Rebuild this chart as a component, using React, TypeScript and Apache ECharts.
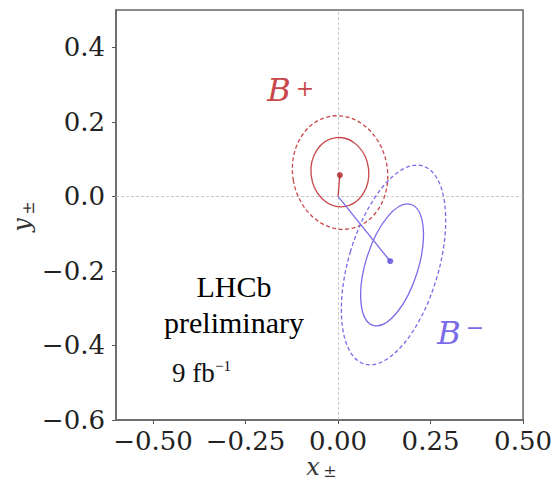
import React, { useEffect, useRef } from "react";
import * as echarts from "echarts";

// ---- data ----
const xTicks = [-0.5, -0.25, 0, 0.25, 0.5];
const xTickLabels = ["\u22120.50", "\u22120.25", "0.00", "0.25", "0.50"];
const yTicks = [-0.6, -0.4, -0.2, 0, 0.2, 0.4];
const yTickLabels = ["\u22120.6", "\u22120.4", "\u22120.2", "0.0", "0.2", "0.4"];

const origin = [0, 0];
const bPlusPoint = [0.005, 0.057];
const bMinusPoint = [0.141, -0.174];

// contours: [centre x, centre y, semi-axis x, semi-axis y, tilt (deg, anticlockwise)]
const bPlus1Sigma = [0.005, 0.065, 0.078, 0.093, 6];
const bPlus2Sigma = [0.0055, 0.064, 0.128, 0.153, 10];
const bMinus1Sigma = [0.146, -0.184, 0.071, 0.17, -17.4];
const bMinus2Sigma = [0.15, -0.184, 0.122, 0.277, -16.4];

const RED = "#c9474a";
const RED_DOT = "#b22222";
const BLUE = "#7b6be8";
const BLUE_DOT = "#5a48d8";

function pick(ticks: number[], labels: string[]) {
  return (v: number) => {
    const i = ticks.findIndex((t) => Math.abs(t - v) < 1e-9);
    return i >= 0 ? labels[i] : "";
  };
}

function contourSeries(row: number[], color: string, dashed: boolean) {
  return {
    type: "custom",
    coordinateSystem: "cartesian2d",
    silent: true,
    data: [row],
    encode: { x: 0, y: 1 },
    renderItem: (params: any, api: any) => {
      const c = api.coord([api.value(0), api.value(1)]);
      const s = api.size([api.value(2), api.value(3)]);
      return {
        type: "ellipse",
        x: c[0],
        y: c[1],
        rotation: (api.value(4) * Math.PI) / 180,
        shape: { cx: 0, cy: 0, rx: s[0], ry: s[1] },
        style: {
          fill: "none",
          stroke: color,
          lineWidth: 1.3,
          lineDash: dashed ? [4, 2.5] : null,
        },
      };
    },
  };
}

export default function App() {
  const ref = useRef<HTMLDivElement>(null);
  useEffect(() => {
    document.body.style.margin = "0";
    const chart = echarts.init(ref.current!, null, { renderer: "svg" });
    const axisLineStyle = { color: "#666", width: 1.5 };
    const labelStyle = {
      fontFamily: "DejaVu Serif",
      fontSize: 26,
      color: "#222",
    };
    chart.setOption({
      animation: false,
      backgroundColor: "#fff",
      grid: {
        left: 116,
        top: 10,
        width: 412,
        height: 410,
        show: true,
        borderColor: "#666",
        borderWidth: 1.5,
        backgroundColor: "transparent",
      },
      xAxis: {
        type: "value",
        min: -0.6,
        max: 0.5,
        axisLine: { show: true, onZero: false, lineStyle: axisLineStyle },
        axisTick: {
          show: true,
          length: 4,
          customValues: xTicks,
          lineStyle: { color: "#555", width: 1 },
        },
        axisLabel: {
          ...labelStyle,
          margin: 8,
          lineHeight: 26,
          customValues: xTicks,
          formatter: pick(xTicks, xTickLabels),
        },
        splitLine: { show: false },
      },
      yAxis: {
        type: "value",
        min: -0.6,
        max: 0.5,
        axisLine: { show: true, onZero: false, lineStyle: axisLineStyle },
        axisTick: {
          show: true,
          length: 4,
          customValues: yTicks,
          lineStyle: { color: "#555", width: 1 },
        },
        axisLabel: {
          ...labelStyle,
          margin: 11,
          customValues: yTicks,
          formatter: pick(yTicks, yTickLabels),
        },
        splitLine: { show: false },
      },
      series: [
        {
          type: "line",
          data: [origin, bPlusPoint],
          symbol: "none",
          lineStyle: { color: RED, width: 1.3 },
          silent: true,
          z: 3,
          markLine: {
            silent: true,
            symbol: "none",
            label: { show: false },
            lineStyle: { type: [3, 2], color: "#c4c4c4", width: 0.9 },
            data: [{ xAxis: 0 }, { yAxis: 0 }],
            z: 1,
          },
        },
        {
          type: "line",
          data: [origin, bMinusPoint],
          symbol: "none",
          lineStyle: { color: BLUE, width: 1.3 },
          silent: true,
          z: 3,
        },
        contourSeries(bPlus1Sigma, RED, false),
        contourSeries(bPlus2Sigma, RED, true),
        contourSeries(bMinus1Sigma, BLUE, false),
        contourSeries(bMinus2Sigma, BLUE, true),
        {
          type: "scatter",
          data: [bPlusPoint],
          symbolSize: 6,
          itemStyle: { color: RED_DOT },
          z: 4,
        },
        {
          type: "scatter",
          data: [bMinusPoint],
          symbolSize: 6,
          itemStyle: { color: BLUE_DOT },
          z: 4,
        },
      ],
      graphic: [
        {
          type: "text",
          x: 234,
          y: 286,
          style: {
            text: "LHCb",
            fontFamily: "Liberation Serif",
            fontSize: 30,
            fill: "#000",
            align: "center",
            verticalAlign: "middle",
          },
        },
        {
          type: "text",
          x: 234,
          y: 322,
          style: {
            text: "preliminary",
            fontFamily: "Liberation Serif",
            fontSize: 30,
            fill: "#000",
            align: "center",
            verticalAlign: "middle",
          },
        },
        {
          type: "text",
          x: 172,
          y: 373,
          style: {
            text: "9 fb",
            fontFamily: "Liberation Serif",
            fontSize: 27,
            fill: "#111",
            align: "left",
            verticalAlign: "middle",
          },
        },
        {
          type: "text",
          x: 215,
          y: 366,
          style: {
            text: "\u22121",
            fontFamily: "Liberation Serif",
            fontSize: 15,
            fill: "#111",
            align: "left",
            verticalAlign: "middle",
          },
        },
        {
          type: "text",
          x: 279,
          y: 90,
          style: {
            text: "B",
            fontFamily: "DejaVu Serif",
            fontStyle: "italic",
            fontSize: 32,
            fill: RED,
            align: "center",
            verticalAlign: "middle",
          },
        },
        {
          type: "text",
          x: 305,
          y: 88,
          style: {
            text: "+",
            fontFamily: "DejaVu Serif",
            fontSize: 22,
            fill: RED,
            align: "center",
            verticalAlign: "middle",
          },
        },
        {
          type: "text",
          x: 449,
          y: 333,
          style: {
            text: "B",
            fontFamily: "DejaVu Serif",
            fontStyle: "italic",
            fontSize: 32,
            fill: BLUE,
            align: "center",
            verticalAlign: "middle",
          },
        },
        {
          type: "text",
          x: 475,
          y: 327,
          style: {
            text: "\u2212",
            fontFamily: "DejaVu Serif",
            fontSize: 22,
            fill: BLUE,
            align: "center",
            verticalAlign: "middle",
          },
        },
        {
          type: "text",
          x: 313,
          y: 467,
          style: {
            text: "x",
            fontFamily: "DejaVu Serif",
            fontStyle: "italic",
            fontSize: 24,
            fill: "#333",
            align: "center",
            verticalAlign: "middle",
          },
        },
        {
          type: "text",
          x: 330,
          y: 471,
          style: {
            text: "\u00b1",
            fontFamily: "DejaVu Serif",
            fontSize: 16,
            fill: "#333",
            align: "center",
            verticalAlign: "middle",
          },
        },
        {
          type: "text",
          x: 22,
          y: 225,
          rotation: Math.PI / 2,
          style: {
            text: "y",
            fontFamily: "DejaVu Serif",
            fontStyle: "italic",
            fontSize: 24,
            fill: "#333",
            align: "center",
            verticalAlign: "middle",
          },
        },
        {
          type: "text",
          x: 28,
          y: 208,
          rotation: Math.PI / 2,
          style: {
            text: "\u00b1",
            fontFamily: "DejaVu Serif",
            fontSize: 16,
            fill: "#333",
            align: "center",
            verticalAlign: "middle",
          },
        },
      ],
    });
    return () => chart.dispose();
  }, []);
  return <div ref={ref} style={{ width: 555, height: 482 }} />;
}
